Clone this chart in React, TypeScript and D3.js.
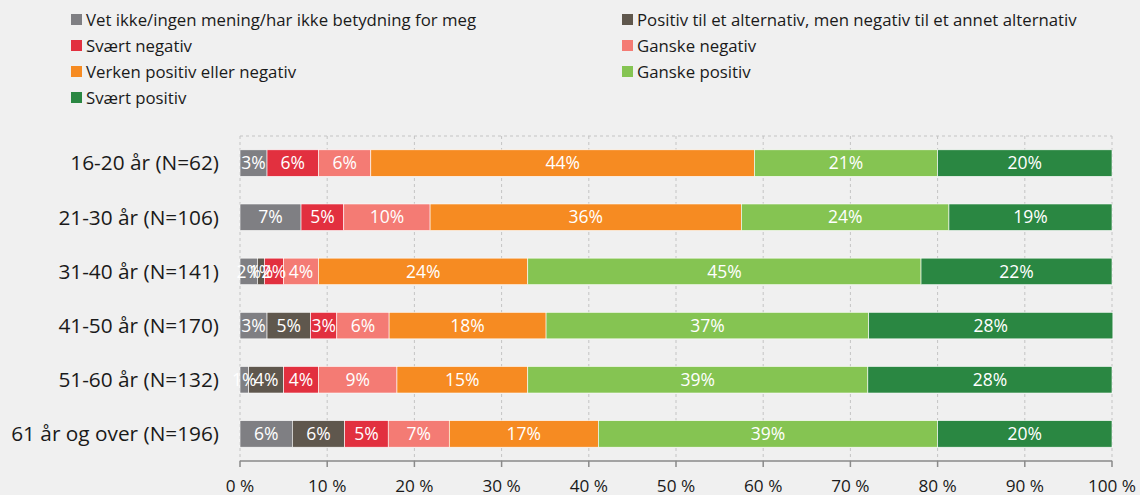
import React from "react";
import * as d3 from "d3";

const categories = [
  "16-20 år (N=62)",
  "21-30 år (N=106)",
  "31-40 år (N=141)",
  "41-50 år (N=170)",
  "51-60 år (N=132)",
  "61 år og over (N=196)",
];

const seriesNames = [
  "Vet ikke/ingen mening/har ikke betydning for meg",
  "Positiv til et alternativ, men negativ til et annet alternativ",
  "Svært negativ",
  "Ganske negativ",
  "Verken positiv eller negativ",
  "Ganske positiv",
  "Svært positiv",
];

const seriesColors = ["#7f7f83", "#5f574d", "#e2303f", "#f47b74", "#f68b22", "#85c452", "#2a8742"];

// values per series, in category order
const vetIkke = [3.1, 7.0, 2.0, 3.1, 1.0, 6.0];
const positivNegativ = [0, 0, 0.8, 5.0, 4.0, 6.0];
const svaertNegativ = [5.9, 4.9, 2.2, 3.0, 4.0, 5.0];
const ganskeNegativ = [6.0, 9.9, 4.0, 6.0, 9.0, 7.0];
const verken = [44.0, 35.7, 24.0, 18.0, 15.0, 17.1];
const ganskePositiv = [21.0, 23.8, 45.1, 37.0, 39.0, 38.9];
const svaertPositiv = [20.0, 18.7, 21.9, 28.0, 28.0, 20.0];

const seriesValues = [vetIkke, positivNegativ, svaertNegativ, ganskeNegativ, verken, ganskePositiv, svaertPositiv];

const xTicks = [0, 10, 20, 30, 40, 50, 60, 70, 80, 90, 100];

const FONT = "'Open Sans', 'Noto Sans', sans-serif";

export default function App() {
  const W = 1140;
  const H = 495;
  const left = 240;
  const right = 1112;
  const top = 136;
  const bottom = 461;

  const x = d3.scaleLinear().domain([0, 100]).range([left, right]);
  const y = d3.scaleBand<string>().domain(categories).range([top, bottom]).paddingInner(0.51).paddingOuter(0.255);

  const legendItems = seriesNames.map((name, i) => {
    const col = i % 2;
    const row = Math.floor(i / 2);
    return { name, color: seriesColors[i], x: col === 0 ? 71 : 622, y: 20 + row * 26 };
  });

  return (
    <svg width={W} height={H} style={{ position: "absolute", left: 0, top: 0 }} fontFamily={FONT}>
      <rect x={0} y={0} width={W} height={H} fill="#f0f0f0" />
      {/* legend */}
      {legendItems.map((d, i) => (
        <g key={i}>
          <rect x={d.x} y={d.y - 6} width={11} height={11} fill={d.color} />
          <text x={d.x + 15} y={d.y} dy="0.35em" fontSize={16.8} fill="#1a1a1a">
            {d.name}
          </text>
        </g>
      ))}
      {/* grid */}
      <line x1={left} x2={right} y1={top} y2={top} stroke="#c4c4c4" strokeDasharray="3,3" />
      {xTicks.map((t) => (
        <line key={t} x1={x(t)} x2={x(t)} y1={top} y2={bottom} stroke="#c4c4c4" strokeDasharray="3,3" />
      ))}
      {/* bars */}
      {categories.map((c, ci) => {
        let cum = 0;
        return (
          <g key={c}>
            {seriesValues.map((vals, si) => {
              const v = vals[ci];
              const x0 = cum;
              cum += v;
              if (v <= 0) return null;
              return (
                <rect
                  key={si}
                  x={x(x0)}
                  y={y(c)!}
                  width={x(x0 + v) - x(x0)}
                  height={y.bandwidth()}
                  fill={seriesColors[si]}
                  stroke="#ffffff"
                  strokeWidth={0.6}
                />
              );
            })}
            {(() => {
              let c2 = 0;
              return seriesValues.map((vals, si) => {
                const v = vals[ci];
                const x0 = c2;
                c2 += v;
                if (v <= 0) return null;
                return (
                  <text
                    key={"t" + si}
                    x={x(x0 + v / 2)}
                    y={y(c)! + y.bandwidth() / 2}
                    dy="0.35em"
                    textAnchor="middle"
                    fontSize={17.5}
                    fill="#ffffff"
                  >
                    {Math.round(v) + "%"}
                  </text>
                );
              });
            })()}
            <text
              x={219}
              y={y(c)! + y.bandwidth() / 2}
              dy="0.35em"
              textAnchor="end"
              fontSize={20.8}
              fill="#1a1a1a"
            >
              {c}
            </text>
          </g>
        );
      })}
      {/* axis */}
      <line x1={left} x2={right} y1={bottom} y2={bottom} stroke="#8a8a8a" strokeWidth={1.5} />
      {xTicks.map((t) => (
        <g key={"a" + t}>
          <line x1={x(t)} x2={x(t)} y1={bottom} y2={bottom + 6} stroke="#8a8a8a" strokeWidth={1.5} />
          <text x={x(t)} y={486} dy="0.35em" textAnchor="middle" fontSize={17.2} fill="#1a1a1a">
            {t + " %"}
          </text>
        </g>
      ))}
    </svg>
  );
}
